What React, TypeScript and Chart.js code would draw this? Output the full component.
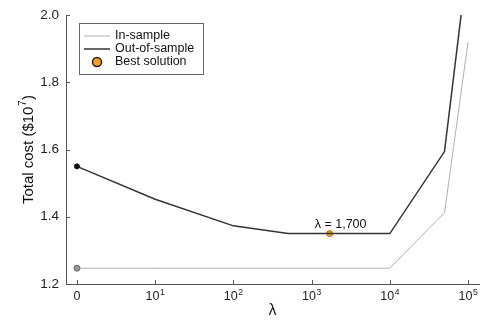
import React, { useEffect, useRef } from "react";
import { Chart, registerables } from "chart.js";

Chart.register(...registerables);

const lambdas = [0, 10, 100, 500, 1000, 1700, 5000, 10000, 50000, 100000];
const outOfSample = [1.55, 1.452, 1.373, 1.35, 1.35, 1.35, 1.35, 1.35, 1.594, 2.17];
const inSample = [1.247, 1.247, 1.247, 1.247, 1.247, 1.247, 1.247, 1.247, 1.412, 1.92];
const bestLambda = 1700;
const bestValue = 1.35;
const bestLabel = "λ = 1,700";
const xTickBases = ["0", "10", "10", "10", "10", "10"];
const xTickExps = ["", "1", "2", "3", "4", "5"];
const yTicks = [1.2, 1.4, 1.6, 1.8, 2.0];
const legendLabels = ["In-sample", "Out-of-sample", "Best solution"];
const yTitleMain = "Total cost ($10";
const yTitleSup = "7";
const yTitleEnd = ")";

const FONT = "'Liberation Sans', Arial, sans-serif";
const pos = (l: number) => (l === 0 ? 0 : Math.log10(l));

const extras = {
  id: "extras",
  afterDraw(chart: any) {
    const { ctx, chartArea, scales } = chart;
    const x = scales.x;
    const y = scales.y;
    ctx.save();
    // inward ticks
    ctx.strokeStyle = "#555";
    ctx.lineWidth = 1;
    ctx.beginPath();
    for (let i = 0; i < xTickBases.length; i++) {
      const px = Math.round(x.getPixelForValue(i)) + 0.5;
      ctx.moveTo(px, chartArea.bottom);
      ctx.lineTo(px, chartArea.bottom - 4);
    }
    for (const v of yTicks) {
      const py = Math.round(y.getPixelForValue(v)) + 0.5;
      ctx.moveTo(chartArea.left, py);
      ctx.lineTo(chartArea.left + 4, py);
    }
    ctx.stroke();

    // x tick labels with superscripts
    ctx.fillStyle = "#222";
    ctx.textBaseline = "middle";
    ctx.textAlign = "left";
    for (let i = 0; i < xTickBases.length; i++) {
      const px = x.getPixelForValue(i);
      ctx.font = `12.5px ${FONT}`;
      const wb = ctx.measureText(xTickBases[i]).width;
      ctx.font = `8.5px ${FONT}`;
      const we = xTickExps[i] ? ctx.measureText(xTickExps[i]).width + 0.5 : 0;
      const sx = px - (wb + we) / 2;
      ctx.font = `12.5px ${FONT}`;
      ctx.fillText(xTickBases[i], sx, 297);
      if (xTickExps[i]) {
        ctx.font = `8.5px ${FONT}`;
        ctx.fillText(xTickExps[i], sx + wb + 0.5, 292.5);
      }
    }

    // annotation
    const bx = x.getPixelForValue(pos(bestLambda));
    const by = y.getPixelForValue(bestValue);
    ctx.fillStyle = "#111";
    ctx.font = `12.5px ${FONT}`;
    ctx.textAlign = "center";
    ctx.textBaseline = "alphabetic";
    ctx.fillText(bestLabel, bx + 11, by - 6);

    // y title with superscript
    ctx.save();
    const cy = (chartArea.top + chartArea.bottom) / 2;
    ctx.translate(29, cy);
    ctx.rotate(-Math.PI / 2);
    ctx.font = `15px ${FONT}`;
    const w1 = ctx.measureText(yTitleMain).width;
    ctx.font = `10px ${FONT}`;
    const w2 = ctx.measureText(yTitleSup).width;
    ctx.font = `15px ${FONT}`;
    const w3 = ctx.measureText(yTitleEnd).width;
    const total = w1 + w2 + w3 + 1;
    let tx = -total / 2;
    ctx.textAlign = "left";
    ctx.textBaseline = "middle";
    ctx.fillStyle = "#111";
    ctx.fillText(yTitleMain, tx, 0);
    tx += w1;
    ctx.font = `10px ${FONT}`;
    ctx.fillText(yTitleSup, tx + 0.5, -6);
    tx += w2 + 1;
    ctx.font = `15px ${FONT}`;
    ctx.fillText(yTitleEnd, tx, 0);
    ctx.restore();

    // legend
    const lx = 79.5, ly = 23.5, lw = 124, lh = 51;
    ctx.fillStyle = "#fff";
    ctx.fillRect(lx, ly, lw, lh);
    ctx.strokeStyle = "#666";
    ctx.lineWidth = 1;
    ctx.strokeRect(lx, ly, lw, lh);
    const rows = [36, 49, 62];
    ctx.strokeStyle = "#b0b0b0";
    ctx.beginPath();
    ctx.moveTo(84, rows[0]);
    ctx.lineTo(110, rows[0]);
    ctx.stroke();
    ctx.strokeStyle = "#333";
    ctx.lineWidth = 1.5;
    ctx.beginPath();
    ctx.moveTo(84, rows[1]);
    ctx.lineTo(110, rows[1]);
    ctx.stroke();
    ctx.fillStyle = "#f5a023";
    ctx.strokeStyle = "#222";
    ctx.lineWidth = 1.5;
    ctx.beginPath();
    ctx.arc(97, rows[2], 4.5, 0, Math.PI * 2);
    ctx.fill();
    ctx.stroke();
    ctx.fillStyle = "#111";
    ctx.textAlign = "left";
    ctx.textBaseline = "middle";
    ctx.font = `12.5px ${FONT}`;
    legendLabels.forEach((t, i) => ctx.fillText(t, 115, rows[i]));
    ctx.restore();
  },
};

export default function App() {
  const ref = useRef<HTMLCanvasElement>(null);
  useEffect(() => {
    if (!ref.current) return;
    const chart = new Chart(ref.current, {
      type: "line",
      data: {
        datasets: [
          {
            label: "In-sample",
            data: lambdas.map((l, i) => ({ x: pos(l), y: inSample[i] })),
            borderColor: "#b0b0b0",
            borderWidth: 1,
            pointRadius: lambdas.map((_, i) => (i === 0 ? 3 : 0)),
            pointBackgroundColor: "#999",
            pointBorderColor: "#666",
            pointBorderWidth: 1,
            tension: 0,
          },
          {
            label: "Out-of-sample",
            data: lambdas.map((l, i) => ({ x: pos(l), y: outOfSample[i] })),
            borderColor: "#333",
            borderWidth: 1.5,
            pointRadius: lambdas.map((_, i) => (i === 0 ? 2.5 : 0)),
            pointBackgroundColor: "#111",
            pointBorderColor: "#111",
            pointBorderWidth: 1,
            tension: 0,
          },
          {
            label: "Best solution",
            type: "scatter",
            data: [{ x: pos(bestLambda), y: bestValue }],
            pointRadius: 3,
            pointBackgroundColor: "#f5a023",
            pointBorderColor: "#b06a10",
            pointBorderWidth: 1,
            showLine: false,
          } as any,
        ],
      },
      options: {
        animation: false,
        responsive: true,
        maintainAspectRatio: false,
        layout: { padding: { left: 0, top: 14, right: 5, bottom: 0 } },
        plugins: { legend: { display: false }, tooltip: { enabled: false } },
        scales: {
          x: {
            type: "linear",
            min: -0.14,
            max: 5.14,
            afterBuildTicks: (s: any) => {
              s.ticks = xTickBases.map((_, i) => ({ value: i }));
            },
            afterFit: (s: any) => {
              s.height = 36;
            },
            grid: { drawOnChartArea: false, drawTicks: false },
            border: { display: true, color: "#555", width: 1 },
            ticks: { display: false },
            title: {
              display: true,
              text: "λ",
              color: "#222",
              font: { family: FONT, size: 16 },
              padding: { top: 0, bottom: 0 },
            },
          },
          y: {
            type: "linear",
            min: 1.2,
            max: 2.0,
            afterBuildTicks: (s: any) => {
              s.ticks = yTicks.map((v) => ({ value: v }));
            },
            afterFit: (s: any) => {
              s.width = 66;
            },
            grid: { drawOnChartArea: false, drawTicks: false },
            border: { display: true, color: "#555", width: 1 },
            ticks: {
              padding: 7,
              color: "#222",
              font: { family: FONT, size: 13.5 },
              callback: (v: any) => Number(v).toFixed(1),
            },
            title: { display: false },
          },
        },
      },
      plugins: [extras],
    });
    return () => chart.destroy();
  }, []);
  return (
    <div style={{ position: "fixed", left: 0, top: 0, width: 484, height: 320, background: "#fff" }}>
      <canvas ref={ref} />
    </div>
  );
}
